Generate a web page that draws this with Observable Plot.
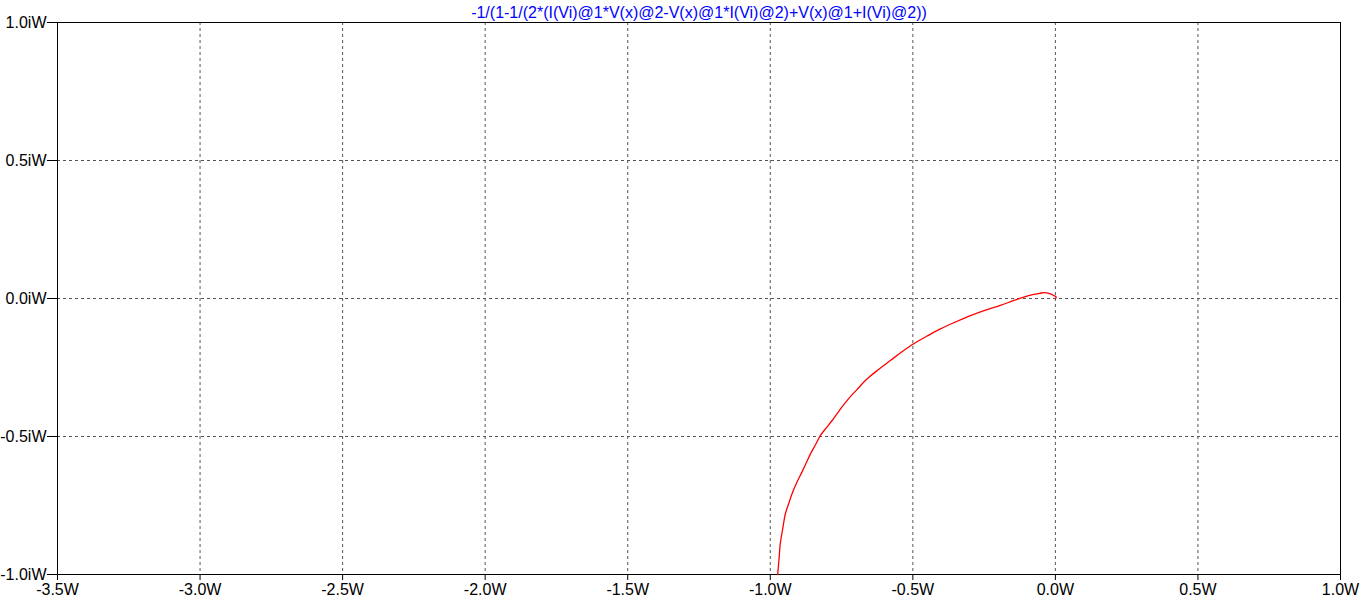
<!DOCTYPE html>
<html>
<head>
<meta charset="utf-8">
<script src="https://cdn.jsdelivr.net/npm/d3@7"></script>
<script src="https://cdn.jsdelivr.net/npm/@observablehq/plot@0.6"></script>
<style>
  html, body { margin: 0; padding: 0; background: #fff; }
  svg { display: block; }
</style>
</head>
<body>
<div id="chart"></div>
<script>
const title = "-1/(1-1/(2*(I(Vi)@1*V(x)@2-V(x)@1*I(Vi)@2)+V(x)@1+I(Vi)@2))";
const xTicks = [-3.5, -3.0, -2.5, -2.0, -1.5, -1.0, -0.5, 0.0, 0.5, 1.0];
const yTicks = [-1.0, -0.5, 0.0, 0.5, 1.0];
// real part (W) and imaginary part (iW) of the trace
const realPart = [-0.974, -0.969, -0.965, -0.956, -0.947, -0.935, -0.924, -0.907, -0.889, -0.874, -0.859, -0.841, -0.824, -0.803, -0.783, -0.757, -0.731, -0.696, -0.660, -0.620, -0.579, -0.538, -0.497, -0.450, -0.403, -0.350, -0.298, -0.245, -0.193, -0.150, -0.111, -0.080, -0.053, -0.041, -0.018, -0.006, 0.003, 0.000];
const imagPart = [-1.000, -0.940, -0.889, -0.832, -0.780, -0.742, -0.708, -0.667, -0.629, -0.596, -0.563, -0.529, -0.496, -0.468, -0.442, -0.405, -0.370, -0.330, -0.291, -0.257, -0.225, -0.193, -0.164, -0.136, -0.110, -0.085, -0.062, -0.042, -0.025, -0.009, 0.005, 0.014, 0.019, 0.021, 0.017, 0.011, 0.005, 0.000];

const trace = realPart.map((x, i) => ({x, y: imagPart[i]}));

const chart = Plot.plot({
  width: 1362,
  height: 606,
  marginLeft: 57,
  marginRight: 22,
  marginTop: 22,
  marginBottom: 32,
  style: {fontFamily: "'Liberation Sans', Arial, sans-serif", fontSize: "16px", color: "#000", background: "#fff"},
  x: {domain: [-3.5, 1.0]},
  y: {domain: [-1.0, 1.0]},
  marks: [
    Plot.gridX(xTicks.slice(1, -1), {stroke: "#555", strokeOpacity: 1, strokeDasharray: "3,3"}),
    Plot.gridY(yTicks.slice(1, -1), {stroke: "#555", strokeOpacity: 1, strokeDasharray: "3,3"}),
    Plot.frame({stroke: "#000", strokeWidth: 1}),
    Plot.axisX({ticks: xTicks, tickFormat: d => d.toFixed(1) + "W", tickSize: 6, tickPadding: 3, label: null, stroke: "#000", fill: "#000", fontSize: 16}),
    Plot.axisY({ticks: yTicks, tickFormat: d => d.toFixed(1) + "iW", tickSize: 10, tickPadding: 1, label: null, stroke: "#000", fill: "#000", fontSize: 16}),
    Plot.line(trace, {x: "x", y: "y", stroke: "#ff0000", strokeWidth: 1.3, curve: "catmull-rom"}),
    Plot.text([title], {frameAnchor: "top", dy: -16, fill: "#0000ff", fontSize: 16, text: d => d})
  ]
});
document.getElementById("chart").appendChild(chart);
</script>
</body>
</html>
